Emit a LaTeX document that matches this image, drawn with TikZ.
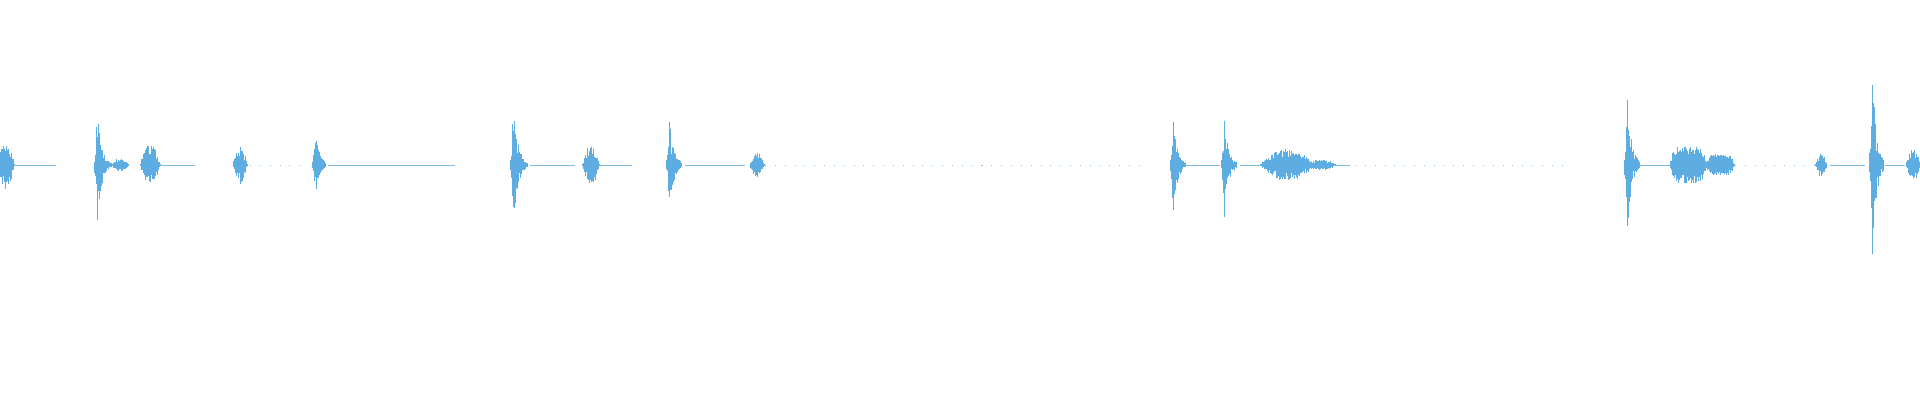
\documentclass[tikz,border=0pt]{standalone}
\usepackage{tikz}

\definecolor{wave}{RGB}{93,173,226}

% spike with short rise and fast decay: x0, up, down, decay, steps
\newcommand{\burst}[5]{%
  \foreach \i in {-6,...,#5}{%
    \pgfmathsetmacro{\bx}{#1+\i*0.5}%
    \pgfmathsetmacro{\be}{exp(-max(-\i*0.5/1.2,\i*0.5/#4))}%
    \pgfmathsetmacro{\bu}{#2*\be*(0.3+0.7*rnd)+0.6}%
    \pgfmathsetmacro{\bd}{#3*\be*(0.3+0.7*rnd)+0.6}%
    \draw[wavestroke] (\bx,\bu) -- (\bx,-\bd);
  }}
% symmetric blob: centre, amplitude, half width
\newcommand{\blob}[3]{%
  \foreach \i in {-#3,...,#3}{%
    \pgfmathsetmacro{\bx}{#1+\i*0.7}%
    \pgfmathsetmacro{\be}{max(0,1-(\i/#3)^2)}%
    \pgfmathsetmacro{\bu}{#2*\be*(0.4+0.6*rnd)+0.6}%
    \pgfmathsetmacro{\bd}{#2*\be*(0.4+0.6*rnd)+0.6}%
    \draw[wavestroke] (\bx,\bu) -- (\bx,-\bd);
  }}
% flat-topped block: centre, amplitude, half width
\newcommand{\slab}[3]{%
  \foreach \i in {-#3,...,#3}{%
    \pgfmathsetmacro{\bx}{#1+\i*0.7}%
    \pgfmathsetmacro{\be}{max(0,1-(\i/#3)^6)}%
    \pgfmathsetmacro{\bu}{#2*\be*(0.5+0.5*rnd)+0.6}%
    \pgfmathsetmacro{\bd}{#2*\be*(0.5+0.5*rnd)+0.6}%
    \draw[wavestroke] (\bx,\bu) -- (\bx,-\bd);
  }}

\begin{document}
\begin{tikzpicture}[x=0.02cm,y=0.02cm,
    wavestroke/.style={wave, line width=0.3pt},
    tail/.style={wave!80, line width=0.3pt},
    sparse/.style={wave!70, line width=0.3pt, dash pattern=on 0.6pt off 5pt}]
  \pgfmathsetseed{42}
  \useasboundingbox (0,-235) rectangle (1920,165);

  % first group
  \blob{6}{25}{12}
  \draw[tail] (14,0) -- (56,0);
  \burst{97}{58}{62}{4}{28}
  \blob{120}{6}{12}
  \blob{150}{20}{14}
  \draw[tail] (160,0) -- (195,0);
  \blob{240}{18}{10}
  \draw[sparse] (250,0) -- (300,0);
  \burst{315}{35}{34}{4}{20}
  \draw[tail] (328,0) -- (455,0);

  % second group
  \burst{513}{80}{74}{4}{28}
  \draw[tail] (530,0) -- (575,0);
  \blob{591}{20}{12}
  \draw[tail] (600,0) -- (632,0);
  \burst{669}{52}{52}{4}{24}
  \draw[tail] (685,0) -- (745,0);
  \blob{757}{12}{10}
  \draw[sparse] (765,0) -- (1145,0);

  % third group
  \burst{1173}{50}{52}{4}{24}
  \draw[tail] (1185,0) -- (1220,0);
  \burst{1224}{50}{52}{4}{24}
  \draw[tail] (1240,0) -- (1260,0);
  \blob{1287}{16}{38}
  \blob{1320}{5}{22}
  \draw[tail] (1335,0) -- (1350,0);
  \draw[sparse] (1355,0) -- (1565,0);

  % fourth group
  \burst{1627}{80}{75}{4}{24}
  \draw[tail] (1640,0) -- (1670,0);
  \slab{1688}{18}{26}
  \slab{1720}{10}{20}
  \draw[sparse] (1735,0) -- (1815,0);
  \blob{1821}{12}{8}
  \draw[tail] (1830,0) -- (1865,0);
  \burst{1872}{95}{95}{4}{22}
  \draw[tail] (1885,0) -- (1905,0);
  \blob{1913}{15}{10}
\end{tikzpicture}
\end{document}
